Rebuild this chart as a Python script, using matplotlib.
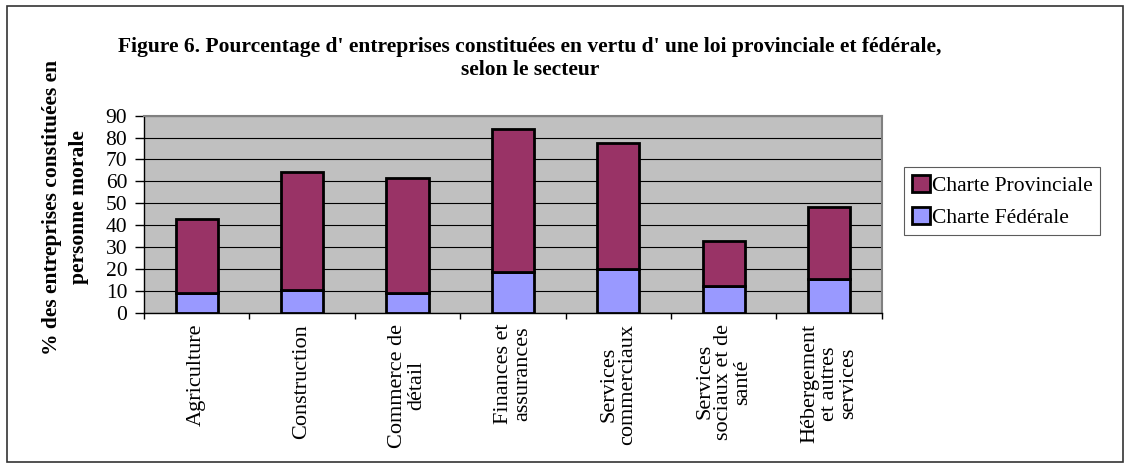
import matplotlib
matplotlib.use("Agg")
import matplotlib.pyplot as plt
import numpy as np
from matplotlib.patches import Rectangle, Patch

categories = ["Agriculture", "Construction", "Commerce de\ndétail", "Finances et\nassurances",
              "Services\ncommerciaux", "Services\nsociaux et de\nsanté", "Hébergement\net autres\nservices"]
federale = [9.1, 10.4, 9.2, 18.4, 19.9, 12.0, 15.3]
provinciale = [33.6, 54.0, 52.4, 65.4, 57.5, 20.6, 32.8]

plt.rcParams['font.family'] = ['Liberation Serif', 'DejaVu Serif']

fig = plt.figure(figsize=(11.3, 4.67), dpi=100)
fig.patches.append(Rectangle((0.006, 0.01), 0.988, 0.978, transform=fig.transFigure,
                             fill=False, edgecolor='#333333', linewidth=1.2))

ax = fig.add_axes([0.1274, 0.3304, 0.653, 0.4218])
ax.set_facecolor('#C0C0C0')

x = np.arange(len(categories))
w = 0.4
ax.bar(x, federale, w, color='#9999FF', edgecolor='black', linewidth=2, label='Charte Fédérale', zorder=3)
ax.bar(x, provinciale, w, bottom=federale, color='#993366', edgecolor='black', linewidth=2,
       label='Charte Provinciale', zorder=3)

ax.set_xlim(-0.5, len(categories) - 0.5)
ax.set_ylim(0, 90)
ax.set_yticks(range(0, 91, 10))
ax.yaxis.grid(True, color='black', linewidth=0.8, zorder=0)
ax.tick_params(axis='y', labelsize=15.5, length=6.5, width=1, pad=5.5)

ax.set_xticks(x)
ax.set_xticklabels(categories, rotation=90, fontsize=16, va='top', ha='center',
                   multialignment='center', linespacing=1.0)
ax.tick_params(axis='x', length=0, pad=8)
ax.set_xticks(np.arange(-0.5, len(categories), 1), minor=True)
ax.tick_params(axis='x', which='minor', length=4, width=1)

for s in ['top', 'right']:
    ax.spines[s].set_color('#808080')
    ax.spines[s].set_linewidth(1.5)
ax.spines['left'].set_linewidth(1)
ax.spines['bottom'].set_linewidth(1)

ax.set_ylabel("% des entreprises constituées en\npersonne morale", fontsize=15.5,
              fontweight='bold', linespacing=1.5)
ax.yaxis.label.set_va('center')
ax.yaxis.set_label_coords(-0.106, 0.535)

fig.text(0.469, 0.874, "Figure 6. Pourcentage d' entreprises constituées en vertu d' une loi provinciale et fédérale,\nselon le secteur",
         ha='center', va='center', fontsize=15.5, fontweight='bold', linespacing=1.2)

handles = [Patch(facecolor='#993366', edgecolor='black', linewidth=2, label='Charte Provinciale'),
           Patch(facecolor='#9999FF', edgecolor='black', linewidth=2, label='Charte Fédérale')]
leg = fig.legend(handles=handles, loc='upper left', bbox_to_anchor=(0.8, 0.642), fontsize=15.5,
                 frameon=True, fancybox=False, edgecolor='#333333', handlelength=0.85, handleheight=0.85,
                 handletextpad=0.1, borderpad=0.35, labelspacing=0.5, borderaxespad=0)
leg.get_frame().set_linewidth(0.8)

fig.savefig("out.png", dpi=100)
